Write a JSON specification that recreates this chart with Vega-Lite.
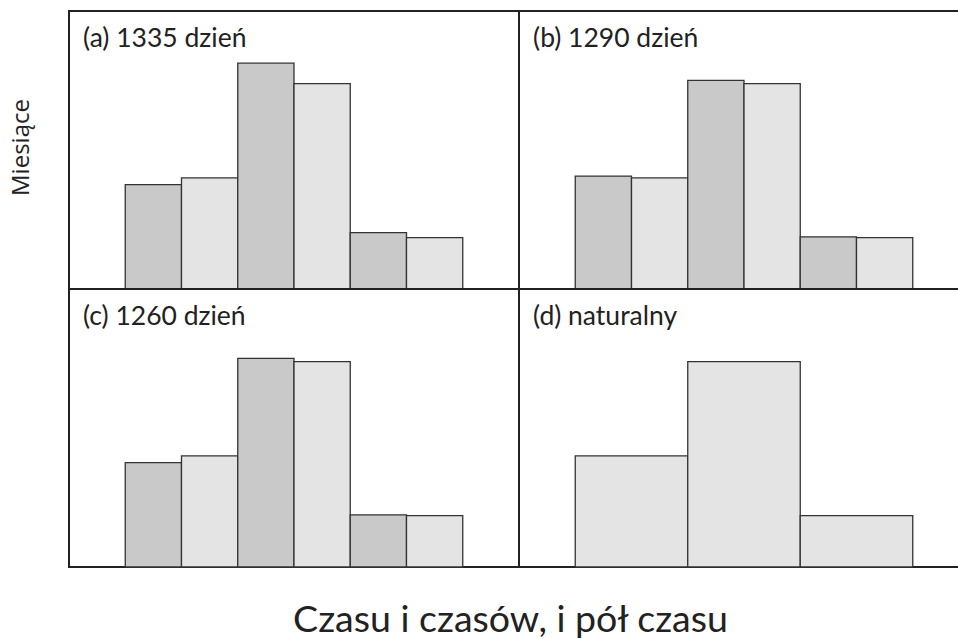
{
  "$schema": "https://vega.github.io/schema/vega-lite/v6.json",
  "padding": {"left": 8, "top": 10, "right": -12, "bottom": 0},
  "background": "white",
  "bounds": "flush",
  "config": {
    "view": {"stroke": "#222222", "strokeWidth": 2},
    "font": "Lato",
    "concat": {"spacing": 0}
  },
  "datasets": {
    "bars": [
      {"panel": "a", "od": 1, "do": 2, "miesiace": 12.2, "seria": "ciemny"},
      {"panel": "a", "od": 2, "do": 3, "miesiace": 13.0, "seria": "jasny"},
      {"panel": "a", "od": 3, "do": 4, "miesiace": 26.4, "seria": "ciemny"},
      {"panel": "a", "od": 4, "do": 5, "miesiace": 24.0, "seria": "jasny"},
      {"panel": "a", "od": 5, "do": 6, "miesiace": 6.6, "seria": "ciemny"},
      {"panel": "a", "od": 6, "do": 7, "miesiace": 6.0, "seria": "jasny"},
      {"panel": "b", "od": 1, "do": 2, "miesiace": 13.2, "seria": "ciemny"},
      {"panel": "b", "od": 2, "do": 3, "miesiace": 13.0, "seria": "jasny"},
      {"panel": "b", "od": 3, "do": 4, "miesiace": 24.4, "seria": "ciemny"},
      {"panel": "b", "od": 4, "do": 5, "miesiace": 24.0, "seria": "jasny"},
      {"panel": "b", "od": 5, "do": 6, "miesiace": 6.1, "seria": "ciemny"},
      {"panel": "b", "od": 6, "do": 7, "miesiace": 6.0, "seria": "jasny"},
      {"panel": "c", "od": 1, "do": 2, "miesiace": 12.2, "seria": "ciemny"},
      {"panel": "c", "od": 2, "do": 3, "miesiace": 13.0, "seria": "jasny"},
      {"panel": "c", "od": 3, "do": 4, "miesiace": 24.4, "seria": "ciemny"},
      {"panel": "c", "od": 4, "do": 5, "miesiace": 24.0, "seria": "jasny"},
      {"panel": "c", "od": 5, "do": 6, "miesiace": 6.1, "seria": "ciemny"},
      {"panel": "c", "od": 6, "do": 7, "miesiace": 6.0, "seria": "jasny"},
      {"panel": "d", "od": 1, "do": 3, "miesiace": 13.0, "seria": "jasny"},
      {"panel": "d", "od": 3, "do": 5, "miesiace": 24.0, "seria": "jasny"},
      {"panel": "d", "od": 5, "do": 7, "miesiace": 6.0, "seria": "jasny"}
    ],
    "labels": [
      {"panel": "a", "etykieta": "(a) 1335 dzień", "lx": 0.25, "ly": 28.3},
      {"panel": "b", "etykieta": "(b) 1290 dzień", "lx": 0.25, "ly": 28.3},
      {"panel": "c", "etykieta": "(c) 1260 dzień", "lx": 0.25, "ly": 28.3},
      {"panel": "d", "etykieta": "(d) naturalny", "lx": 0.25, "ly": 28.3}
    ]
  },
  "columns": 2,
  "concat": [
    {
      "width": 450, "height": 278,
      "layer": [
        {
          "data": {"name": "bars"},
          "transform": [{"filter": "datum.panel === 'a'"}],
          "mark": {"type": "rect", "stroke": "#333333", "strokeWidth": 1.3},
          "encoding": {
            "x": {"field": "od", "type": "quantitative", "scale": {"domain": [0, 8], "nice": false}, "axis": null},
            "x2": {"field": "do"},
            "y": {"field": "miesiace", "type": "quantitative", "scale": {"domain": [0, 32.5], "nice": false},
                  "axis": {"title": "Miesiące", "labels": false, "ticks": false, "domain": false, "grid": false, "titlePadding": 36, "titleFontSize": 24, "titleFontWeight": "normal", "titleFont": "Open Sans", "titleColor": "#222222", "titleY": 136}},
            "y2": {"datum": 0},
            "fill": {"field": "seria", "type": "nominal", "scale": {"domain": ["ciemny", "jasny"], "range": ["#c9c9c9", "#e4e4e4"]}, "legend": null}
          }
        },
        {
          "data": {"name": "labels"},
          "transform": [{"filter": "datum.panel === 'a'"}],
          "mark": {"type": "text", "align": "left", "baseline": "alphabetic", "fontSize": 26.5, "color": "#222222"},
          "encoding": {
            "x": {"field": "lx", "type": "quantitative"},
            "y": {"field": "ly", "type": "quantitative"},
            "text": {"field": "etykieta"}
          }
        }
      ]
    },
    {
      "width": 450, "height": 278,
      "layer": [
        {
          "data": {"name": "bars"},
          "transform": [{"filter": "datum.panel === 'b'"}],
          "mark": {"type": "rect", "stroke": "#333333", "strokeWidth": 1.3},
          "encoding": {
            "x": {"field": "od", "type": "quantitative", "scale": {"domain": [0, 8], "nice": false}, "axis": null},
            "x2": {"field": "do"},
            "y": {"field": "miesiace", "type": "quantitative", "scale": {"domain": [0, 32.5], "nice": false}, "axis": null},
            "y2": {"datum": 0},
            "fill": {"field": "seria", "type": "nominal", "scale": {"domain": ["ciemny", "jasny"], "range": ["#c9c9c9", "#e4e4e4"]}, "legend": null}
          }
        },
        {
          "data": {"name": "labels"},
          "transform": [{"filter": "datum.panel === 'b'"}],
          "mark": {"type": "text", "align": "left", "baseline": "alphabetic", "fontSize": 26.5, "color": "#222222"},
          "encoding": {
            "x": {"field": "lx", "type": "quantitative"},
            "y": {"field": "ly", "type": "quantitative"},
            "text": {"field": "etykieta"}
          }
        }
      ]
    },
    {
      "width": 450, "height": 278,
      "layer": [
        {
          "data": {"name": "bars"},
          "transform": [{"filter": "datum.panel === 'c'"}],
          "mark": {"type": "rect", "stroke": "#333333", "strokeWidth": 1.3},
          "encoding": {
            "x": {"field": "od", "type": "quantitative", "scale": {"domain": [0, 8], "nice": false},
                  "axis": {"title": "Czasu i czasów, i pół czasu", "labels": false, "ticks": false, "domain": false, "grid": false, "titleX": 441, "titleY": 64, "titleAlign": "center", "titleBaseline": "alphabetic", "titleFontSize": 37.5, "titleFontWeight": "normal", "titleFont": "Lato", "titleColor": "#222222"}},
            "x2": {"field": "do"},
            "y": {"field": "miesiace", "type": "quantitative", "scale": {"domain": [0, 32.5], "nice": false}, "axis": null},
            "y2": {"datum": 0},
            "fill": {"field": "seria", "type": "nominal", "scale": {"domain": ["ciemny", "jasny"], "range": ["#c9c9c9", "#e4e4e4"]}, "legend": null}
          }
        },
        {
          "data": {"name": "labels"},
          "transform": [{"filter": "datum.panel === 'c'"}],
          "mark": {"type": "text", "align": "left", "baseline": "alphabetic", "fontSize": 26.5, "color": "#222222"},
          "encoding": {
            "x": {"field": "lx", "type": "quantitative"},
            "y": {"field": "ly", "type": "quantitative"},
            "text": {"field": "etykieta"}
          }
        }
      ]
    },
    {
      "width": 450, "height": 278,
      "layer": [
        {
          "data": {"name": "bars"},
          "transform": [{"filter": "datum.panel === 'd'"}],
          "mark": {"type": "rect", "stroke": "#333333", "strokeWidth": 1.3},
          "encoding": {
            "x": {"field": "od", "type": "quantitative", "scale": {"domain": [0, 8], "nice": false}, "axis": null},
            "x2": {"field": "do"},
            "y": {"field": "miesiace", "type": "quantitative", "scale": {"domain": [0, 32.5], "nice": false}, "axis": null},
            "y2": {"datum": 0},
            "fill": {"field": "seria", "type": "nominal", "scale": {"domain": ["ciemny", "jasny"], "range": ["#c9c9c9", "#e4e4e4"]}, "legend": null}
          }
        },
        {
          "data": {"name": "labels"},
          "transform": [{"filter": "datum.panel === 'd'"}],
          "mark": {"type": "text", "align": "left", "baseline": "alphabetic", "fontSize": 26.5, "color": "#222222"},
          "encoding": {
            "x": {"field": "lx", "type": "quantitative"},
            "y": {"field": "ly", "type": "quantitative"},
            "text": {"field": "etykieta"}
          }
        }
      ]
    }
  ]
}
